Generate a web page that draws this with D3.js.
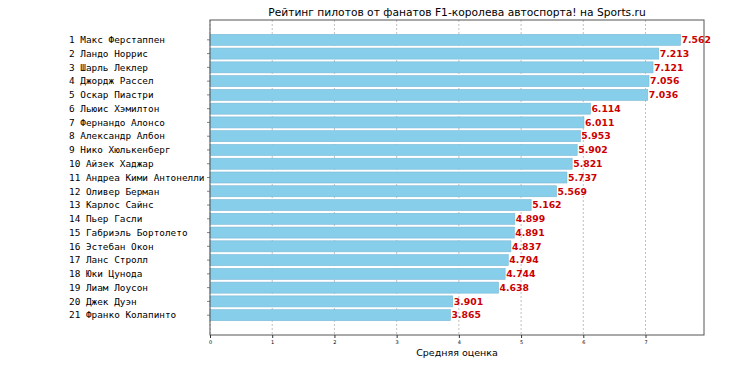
<!DOCTYPE html>
<html>
<head>
<meta charset="utf-8">
<script src="https://cdn.jsdelivr.net/npm/d3@7"></script>
<style>
body { margin: 0; background: #fff; }
</style>
</head>
<body>
<svg width="730" height="365"></svg>
<script>
var drivers = ["Макс Ферстаппен", "Ландо Норрис", "Шарль Леклер", "Джордж Рассел", "Оскар Пиастри",
  "Льюис Хэмилтон", "Фернандо Алонсо", "Александр Албон", "Нико Хюлькенберг", "Айзек Хаджар",
  "Андреа Кими Антонелли", "Оливер Берман", "Карлос Сайнс", "Пьер Гасли", "Габриэль Бортолето",
  "Эстебан Окон", "Ланс Стролл", "Юки Цунода", "Лиам Лоусон", "Джек Дуэн", "Франко Колапинто"];
var ratings = [7.562, 7.213, 7.121, 7.056, 7.036, 6.114, 6.011, 5.953, 5.902, 5.821,
  5.737, 5.569, 5.162, 4.899, 4.891, 4.837, 4.794, 4.744, 4.638, 3.901, 3.865];
var xTicks = [0, 1, 2, 3, 4, 5, 6, 7];
var titleText = "Рейтинг пилотов от фанатов F1-королева автоспорта! на Sports.ru";
var xLabel = "Средняя оценка";

var svg = d3.select("svg");
var margin = {top: 20, right: 26, bottom: 30, left: 210};
var width = 730 - margin.left - margin.right;
var height = 365 - margin.top - margin.bottom;

var xMax = d3.max(ratings) * 1.05;
var xScale = d3.scaleLinear().domain([0, xMax]).range([0, width]);

// bars at integer positions, height 0.8, 5% margins like matplotlib
var n = ratings.length;
var span = (n - 1) + 0.8;
var pad = span * 0.05;
var yScale = d3.scaleLinear().domain([-0.4 - pad, n - 1 + 0.4 + pad]).range([0, height]);

var g = svg.append("g").attr("transform", "translate(" + margin.left + "," + margin.top + ")");

// grid
g.selectAll(".grid")
  .data(xTicks)
  .enter()
  .append("line")
  .attr("x1", function(d) { return xScale(d); })
  .attr("x2", function(d) { return xScale(d); })
  .attr("y1", 0)
  .attr("y2", height)
  .style("stroke", "#b0b0b0")
  .style("stroke-width", 0.8)
  .style("stroke-dasharray", "2,2");

g.selectAll("rect")
  .data(ratings)
  .enter()
  .append("rect")
  .attr("x", xScale(0))
  .attr("y", function(d, i) { return yScale(i - 0.4); })
  .attr("width", function(d) { return xScale(d) - xScale(0); })
  .attr("height", yScale(0.8) - yScale(0))
  .attr("fill", "#87ceeb")
  .attr("stroke", "#7ab8d4")
  .attr("stroke-width", 0.6);

g.selectAll(".val")
  .data(ratings)
  .enter()
  .append("text")
  .attr("x", function(d) { return xScale(d) + 1; })
  .attr("y", function(d, i) { return yScale(i); })
  .attr("dy", "0.35em")
  .attr("font-family", "DejaVu Sans")
  .attr("font-weight", "bold")
  .attr("font-size", "9.3px")
  .attr("fill", "#cc0000")
  .text(function(d) { return d3.format(".3f")(d); });

// y tick marks
g.selectAll(".ytick")
  .data(ratings)
  .enter()
  .append("line")
  .attr("x1", -3)
  .attr("x2", 0)
  .attr("y1", function(d, i) { return yScale(i); })
  .attr("y2", function(d, i) { return yScale(i); })
  .style("stroke", "#333")
  .style("stroke-width", 0.6);

// driver labels, left aligned
svg.append("g")
  .selectAll("text")
  .data(drivers)
  .enter()
  .append("text")
  .attr("x", 69)
  .attr("y", function(d, i) { return margin.top + yScale(i); })
  .attr("dy", "0.35em")
  .attr("font-family", "DejaVu Sans Mono")
  .attr("font-size", "9.4px")
  .attr("fill", "#000")
  .text(function(d, i) { return (i + 1) + " " + d; });

// frame
g.append("rect")
  .attr("x", 0)
  .attr("y", 0)
  .attr("width", width)
  .attr("height", height)
  .attr("fill", "none")
  .attr("stroke", "#555")
  .attr("stroke-width", 1);

var xAxis = d3.axisBottom().scale(xScale).tickValues(xTicks).tickSize(3).tickPadding(2);
var xa = g.append("g").attr("transform", "translate(0," + height + ")").call(xAxis);
xa.select(".domain").remove();
xa.selectAll("text").attr("font-family", "DejaVu Sans").attr("font-size", "5px").attr("fill", "#000");
xa.selectAll("line").attr("stroke", "#333");

svg.append("text")
  .attr("x", margin.left + width / 2)
  .attr("y", 356)
  .style("text-anchor", "middle")
  .style("font-family", "DejaVu Sans")
  .style("font-size", "9.5px")
  .text(xLabel);

svg.append("text")
  .attr("x", margin.left + width / 2)
  .attr("y", 16)
  .style("text-anchor", "middle")
  .style("font-family", "DejaVu Sans")
  .style("font-size", "10.7px")
  .text(titleText);
</script>
</body>
</html>
